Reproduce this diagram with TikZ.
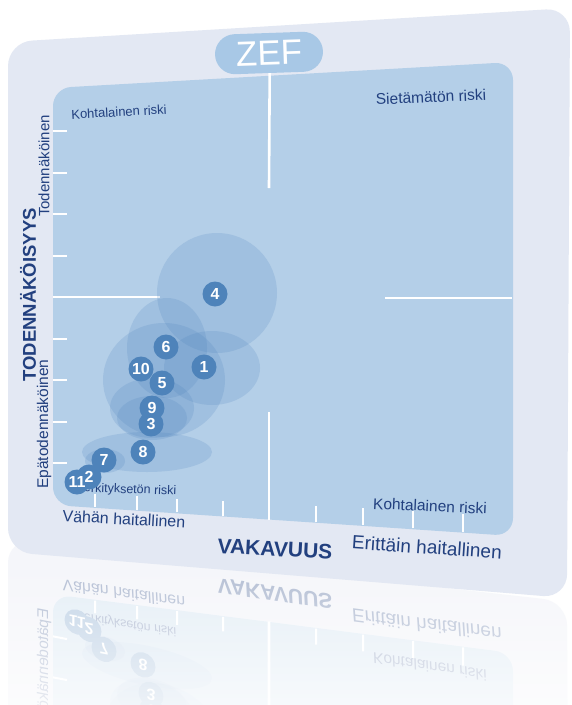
\documentclass[tikz,border=0pt]{standalone}
\usepackage{fontspec}
\setmainfont{Liberation Sans}
\usetikzlibrary{fadings}
\definecolor{zefouter}{HTML}{E3E8F3}
\definecolor{zefarea}{HTML}{B4CFE8}
\definecolor{zefpill}{HTML}{A8C8E6}
\definecolor{zefbubble}{HTML}{4E83BA}
\definecolor{zefspread}{HTML}{4A80BC}
\definecolor{zeftext}{HTML}{22407F}

\begin{document}
\begin{tikzpicture}[x=1pt,y=-1pt,
  scaletick/.style={white,line width=2pt},
  midline/.style={white,line width=2.6pt},
  spread/.style={fill=zefspread,fill opacity=0.18},
  bubble/.style={circle,fill=zefbubble,inner sep=0pt,minimum size=25pt},
  bubblenum/.style={text=white,inner sep=0pt,font=\bfseries\fontsize{16}{16}\selectfont},
  riskname/.style={text=zeftext,inner sep=0pt,font=\fontsize{#1}{#1}\selectfont},
  axisname/.style={text=zeftext,inner sep=0pt,font=\bfseries\fontsize{#1}{#1}\selectfont}]
\useasboundingbox (0,0) rectangle (572,705);
\fill[white] (0,0) rectangle (572,705);
\def\zefpanel{%
\fill[zefouter,rounded corners=24pt] (8,42) -- (570,8) -- (567,598) -- (8,552) -- cycle;
\fill[zefarea,rounded corners=18pt] (53,88) -- (513,62) -- (513,536) -- (53,505) -- cycle;
\node[fill=zefpill,rounded corners=20pt,minimum width=108pt,minimum height=40pt,inner sep=0pt,text=white,font=\fontsize{35}{35}\selectfont,rotate=2] (zef) at (269,53) {ZEF};
\draw[midline] (zef.south) -- (269,188);
\draw[midline] (269,412) -- (269,520);
\draw[midline] (53,297) -- (160,297);
\draw[midline] (385,298) -- (512,298);
\foreach \y in {131,173,214,256,339,380,422,463} \draw[scaletick] (53,\y) -- (67,\y);
\foreach \x in {95,137,177,223,316,363,413,463} \draw[scaletick] (\x,{504+0.068*(\x-53)}) -- ++(0,{-12-0.015*(\x-53)});
\node[riskname=13,rotate=3] (lowhigh) at (119,112) {Kohtalainen riski};
\node[riskname=15.5,rotate=2.5] (highhigh) at (431,97) {Sietämätön riski};
\node[riskname=15.5,rotate=-2.5] (highlow) at (430,506) {Kohtalainen riski};
\node[riskname=12.5,rotate=-2] (lowlow) at (125,490) {Merkityksetön riski};
\node[riskname=16,rotate=-3] (mild) at (124,519) {Vähän haitallinen};
\node[riskname=19,rotate=-3.8] (severe) at (427,547) {Erittäin haitallinen};
\node[axisname=21,rotate=-3] (sevaxis) at (275,549) {VAKAVUUS};
\node[axisname=18.5,rotate=90] (probaxis) at (28,295) {TODENNÄKÖISYYS};
\node[riskname=15,rotate=90] (likely) at (44,166) {Todennäköinen};
\node[riskname=15.5,rotate=90] (unlikely) at (44,424) {Epätodennäköinen};
\fill[spread] (217,293) ellipse [x radius=60pt,y radius=60pt];
\fill[spread] (212,368) ellipse [x radius=48pt,y radius=37pt];
\fill[spread] (167,348) ellipse [x radius=40pt,y radius=50pt];
\fill[spread] (164,380) ellipse [x radius=61pt,y radius=57pt];
\fill[spread] (152,408) ellipse [x radius=42pt,y radius=30pt];
\fill[spread] (152,418) ellipse [x radius=35pt,y radius=22pt];
\fill[spread] (147,452) ellipse [x radius=65pt,y radius=20pt];
\fill[spread] (105,461) ellipse [x radius=20pt,y radius=12pt];
\foreach \n/\x/\y in {4/215/294,6/166/347,1/204/367,10/141/369,5/162/383,9/152/408,3/151/424,8/143/452,7/104/460,11/77/482,2/89/477}
  \node[bubble] (risk\n) at (\x,\y) {};
\foreach \n in {4,6,1,10,5,9,3,8,7,11,2}
  \node[bubblenum] (num\n) at (risk\n) {\n};
}
\begin{scope}[cm={1,-0.195,0,-1,(0pt,-1089pt)},transform shape,transparency group,opacity=0.35]
\zefpanel
\end{scope}
\fill[white,path fading=north,fill opacity=0.7] (0,555) rectangle (572,705);
\zefpanel
\end{tikzpicture}
\end{document}
